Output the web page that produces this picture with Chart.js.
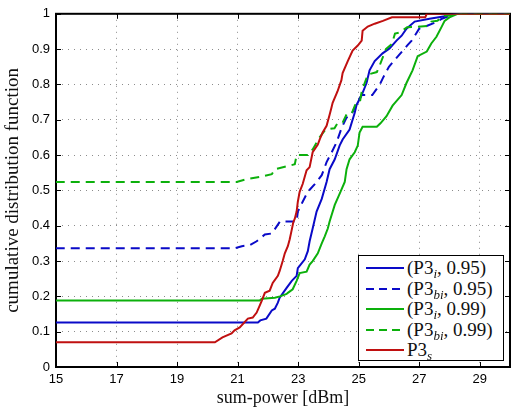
<!DOCTYPE html>
<html>
<head>
<meta charset="utf-8">
<script src="https://cdn.jsdelivr.net/npm/chart.js@4/dist/chart.umd.min.js"></script>
<style>
  html, body { margin: 0; padding: 0; background: #fff; }
  #wrap { position: relative; width: 511px; height: 409px; }
  #legend {
    position: absolute; left: 358px; top: 255px; width: 146px; height: 106px;
    box-sizing: border-box; border: 1px solid #000; background: #fff;
    padding-top: 2px;
    font-family: "Liberation Serif", serif; font-size: 19px; color: #111;
  }
  .row { display: flex; align-items: center; height: 20.5px; white-space: nowrap; }
  .row svg { margin-left: 7px; margin-right: 3px; flex: none; }
  .sub { font-size: 13px; font-style: italic; position: relative; top: 4px; }
</style>
</head>
<body>
<div id="wrap">
  <canvas id="c" width="511" height="409"></canvas>
  <div id="legend"></div>
</div>
<script>
// Empirical CDFs of the sum power, one [dBm, probability] list per scheme
const p3i095 = [[14,0.126],[21.67,0.126],[21.75,0.132],[21.95,0.137],[22.13,0.16],[22.23,0.165],[22.33,0.182],[22.39,0.196],[22.62,0.224],[22.79,0.244],
  [22.95,0.258],[22.99,0.28],[23.22,0.305],[23.32,0.328],[23.38,0.356],[23.48,0.392],[23.61,0.44],[23.78,0.476],[23.94,0.524],[24.04,0.56],
  [24.21,0.588],[24.37,0.627],[24.47,0.644],[24.7,0.672],[24.87,0.72],[24.93,0.742],[25.1,0.77],[25.26,0.804],[25.36,0.84],[25.53,0.866],
  [25.79,0.888],[26.02,0.902],[26.25,0.924],[26.42,0.938],[26.58,0.958],[26.85,0.978],[27.34,0.986],[27.9,0.994],[28.1,1],[31,1]];
const p3bi095 = [[14,0.336],[20.9,0.336],[21.14,0.342],[21.4,0.345],[21.63,0.356],[21.9,0.375],[22.13,0.378],[22.33,0.403],[22.4,0.412],[22.95,0.412],
  [22.99,0.44],[23.15,0.468],[23.32,0.496],[23.55,0.518],[23.78,0.543],[23.94,0.58],[24.11,0.608],[24.27,0.636],[24.44,0.678],[24.6,0.706],
  [24.76,0.715],[24.96,0.75],[25.1,0.77],[25.45,0.77],[25.7,0.8],[25.8,0.818],[26.0,0.85],[26.2,0.87],[26.6,0.91],[26.75,0.924],
  [26.9,0.944],[27.0,0.958],[27.2,0.964],[27.6,0.978],[27.75,0.986],[28.0,0.994],[28.1,1],[31,1]];
const p3i099 = [[14,0.188],[21.73,0.188],[21.8,0.193],[22.23,0.196],[22.4,0.2],[22.62,0.207],[22.66,0.21],[22.82,0.22],[22.95,0.244],[23.05,0.266],
  [23.28,0.27],[23.38,0.29],[23.48,0.3],[23.65,0.322],[23.78,0.35],[23.88,0.37],[23.98,0.392],[24.04,0.412],[24.21,0.459],[24.37,0.49],
  [24.54,0.524],[24.6,0.56],[24.7,0.588],[24.87,0.608],[24.97,0.627],[25.03,0.664],[25.13,0.68],[25.6,0.68],[25.72,0.69],[25.92,0.71],
  [26.12,0.74],[26.42,0.77],[26.58,0.804],[26.78,0.84],[26.95,0.88],[27.25,0.893],[27.4,0.916],[27.57,0.935],[27.74,0.963],[27.84,0.98],
  [28.0,0.99],[28.27,1],[31,1]];
const p3bi099 = [[14,0.524],[20.97,0.524],[21.3,0.532],[21.73,0.538],[22.13,0.546],[22.23,0.56],[22.62,0.568],[22.89,0.574],[22.95,0.6],[23.32,0.6],
  [23.48,0.616],[23.71,0.65],[23.9,0.672],[24.2,0.676],[24.3,0.69],[24.47,0.692],[24.6,0.715],[24.77,0.718],[24.9,0.745],[25.05,0.755],
  [25.1,0.78],[25.3,0.828],[25.6,0.835],[25.7,0.855],[25.9,0.9],[26.1,0.915],[26.2,0.944],[26.35,0.947],[26.6,0.962],[26.9,0.963],
  [27.3,0.966],[27.4,0.978],[27.6,0.98],[27.8,0.994],[28.1,0.996],[28.2,1],[31,1]];
const p3s = [[14,0.07],[20.25,0.07],[20.5,0.084],[20.8,0.095],[20.9,0.104],[21.07,0.112],[21.34,0.137],[21.5,0.14],[21.63,0.154],[21.73,0.174],
  [21.8,0.188],[21.9,0.21],[22.06,0.216],[22.16,0.238],[22.33,0.258],[22.39,0.272],[22.49,0.3],[22.56,0.322],[22.66,0.342],[22.72,0.361],
  [22.79,0.389],[22.84,0.41],[22.89,0.42],[22.95,0.44],[22.99,0.468],[23.05,0.496],[23.15,0.518],[23.28,0.557],[23.38,0.566],[23.48,0.608],
  [23.65,0.63],[23.71,0.644],[23.81,0.664],[23.94,0.683],[24.04,0.714],[24.1,0.734],[24.14,0.748],[24.3,0.78],[24.43,0.812],[24.47,0.832],
  [24.64,0.866],[24.8,0.896],[24.97,0.91],[25.1,0.924],[25.13,0.952],[25.3,0.964],[25.53,0.972],[25.8,0.98],[26.1,0.99],[27.2,0.99],
  [27.25,1],[31,1]];

const xTicks = [15, 17, 19, 21, 23, 25, 27, 29];
const yTicks = [0, 0.1, 0.2, 0.3, 0.4, 0.5, 0.6, 0.7, 0.8, 0.9, 1];
const yTickLabels = ['0', '0.1', '0.2', '0.3', '0.4', '0.5', '0.6', '0.7', '0.8', '0.9', '1'];

const series = [
  { data: p3i095,  color: '#0a0ac8', dash: [],     name: 'P3', sub: 'i',  tail: ', 0.95)' },
  { data: p3bi095, color: '#0a0ac8', dash: [9, 6], name: 'P3', sub: 'bi', tail: ', 0.95)' },
  { data: p3i099,  color: '#0cb00c', dash: [],     name: 'P3', sub: 'i',  tail: ', 0.99)' },
  { data: p3bi099, color: '#0cb00c', dash: [9, 6], name: 'P3', sub: 'bi', tail: ', 0.99)' },
  { data: p3s,     color: '#c01010', dash: [],     name: 'P3', sub: 's',  tail: '' }
];

// Axes box with inward tick marks on all four sides
const axesBox = {
  id: 'axesBox',
  beforeDatasetsDraw(chart) {
    const { ctx, chartArea: a, scales: { x, y } } = chart;
    ctx.save();
    ctx.strokeStyle = '#000';
    ctx.lineWidth = 1;
    const tl = 5;
    ctx.beginPath();
    xTicks.forEach(v => {
      const px = Math.round(x.getPixelForValue(v)) + 0.5;
      ctx.moveTo(px, a.bottom); ctx.lineTo(px, a.bottom - tl);
      ctx.moveTo(px, a.top); ctx.lineTo(px, a.top + tl);
    });
    yTicks.forEach(v => {
      const py = Math.round(y.getPixelForValue(v)) + 0.5;
      ctx.moveTo(a.left, py); ctx.lineTo(a.left + tl, py);
      ctx.moveTo(a.right, py); ctx.lineTo(a.right - tl, py);
    });
    ctx.stroke();
    ctx.lineWidth = 2;
    ctx.strokeRect(a.left, a.top, a.right - a.left, a.bottom - a.top);
    ctx.restore();
  }
};

new Chart(document.getElementById('c'), {
  type: 'scatter',
  data: {
    datasets: series.map((s, i) => ({
      label: s.name + s.sub + s.tail,
      data: s.data.map(([x, y]) => ({ x, y })),
      showLine: true,
      borderColor: s.color,
      backgroundColor: s.color,
      borderWidth: 2,
      borderDash: s.dash,
      pointRadius: 0,
      tension: 0,
      order: series.length - i
    }))
  },
  options: {
    responsive: false,
    devicePixelRatio: 1,
    animation: false,
    layout: { padding: { top: 10, right: 1, left: 0, bottom: 0 } },
    plugins: { legend: { display: false }, tooltip: { enabled: false } },
    scales: {
      x: {
        type: 'linear', min: 15, max: 30,
        afterBuildTicks: s => { s.ticks = xTicks.map(v => ({ value: v })); },
        afterFit: s => { s.height = 42; },
        grid: { color: '#8c8c8c', lineWidth: 1, drawTicks: false },
        border: { display: false, dash: [1, 5] },
        ticks: { color: '#000', padding: 5, maxRotation: 0, autoSkip: false,
                 font: { family: 'Liberation Sans', size: 13 } },
        title: { display: true, text: 'sum-power [dBm]', color: '#111',
                 padding: { top: 0, bottom: 0 },
                 font: { family: 'Liberation Serif', size: 18 } }
      },
      y: {
        type: 'linear', min: 0, max: 1,
        afterBuildTicks: s => { s.ticks = yTicks.map(v => ({ value: v })); },
        afterFit: s => { s.width = 56; },
        grid: { color: '#8c8c8c', lineWidth: 1, drawTicks: false },
        border: { display: false, dash: [1, 5] },
        ticks: { color: '#000', padding: 6, autoSkip: false,
                 callback: (v, i) => yTickLabels[i],
                 font: { family: 'Liberation Sans', size: 13 } },
        title: { display: true, text: 'cumulative distribution function', color: '#111',
                 padding: { top: 2, bottom: 0 },
                 font: { family: 'Liberation Serif', size: 19 } }
      }
    }
  },
  plugins: [axesBox]
});

// Legend with subscripted scheme names
const legend = document.getElementById('legend');
series.forEach(s => {
  const row = document.createElement('div');
  row.className = 'row';
  const ns = 'http://www.w3.org/2000/svg';
  const svg = document.createElementNS(ns, 'svg');
  svg.setAttribute('width', '38'); svg.setAttribute('height', '4');
  const ln = document.createElementNS(ns, 'line');
  ln.setAttribute('x1', '0'); ln.setAttribute('y1', '2');
  ln.setAttribute('x2', '38'); ln.setAttribute('y2', '2');
  ln.setAttribute('stroke', s.color); ln.setAttribute('stroke-width', '2');
  if (s.dash.length) ln.setAttribute('stroke-dasharray', '8 5');
  svg.appendChild(ln);
  row.appendChild(svg);
  const txt = document.createElement('span');
  const open = s.tail ? '(' : '';
  txt.appendChild(document.createTextNode(open + s.name));
  const sb = document.createElement('span');
  sb.className = 'sub';
  sb.textContent = s.sub;
  txt.appendChild(sb);
  if (s.tail) txt.appendChild(document.createTextNode(s.tail));
  row.appendChild(txt);
  legend.appendChild(row);
});
</script>
</body>
</html>
